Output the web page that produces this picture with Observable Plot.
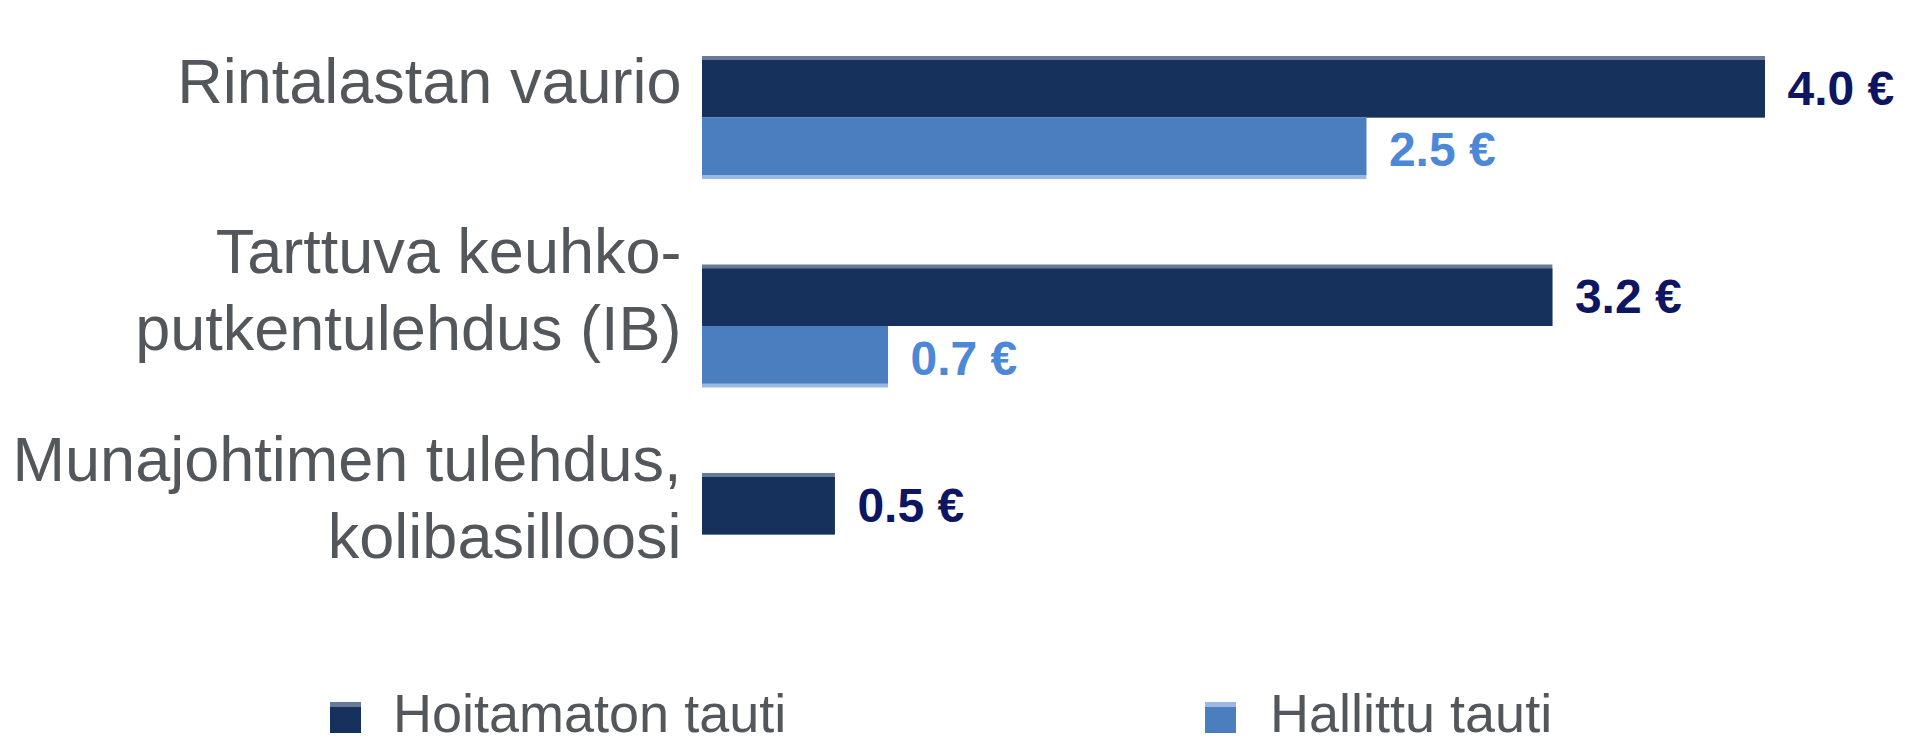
<!DOCTYPE html>
<html>
<head>
<meta charset="utf-8">
<script src="https://cdn.jsdelivr.net/npm/d3@7"></script>
<script src="https://cdn.jsdelivr.net/npm/@observablehq/plot@0.6"></script>
<style>
  html, body { margin: 0; padding: 0; background: #ffffff; }
  #wrap { width: 1905px; height: 742px; font-family: "Liberation Sans", Arial, sans-serif; }
  #legend { position: relative; width: 1905px; height: 52px; }
  .sw { position: absolute; width: 31px; height: 26px; border-top: 5px solid; }
  .lt { position: absolute; font-size: 54px; line-height: 46px; color: #53575b; white-space: nowrap; }
</style>
</head>
<body>
<div id="wrap">
  <div id="chart"></div>
  <div id="legend"></div>
</div>
<script>
// ---- data ----
const categories = [
  "Rintalastan vaurio",
  "Tarttuva keuhko-\nputkentulehdus (IB)",
  "Munajohtimen tulehdus,\nkolibasilloosi"
];
const series = ["Hoitamaton tauti", "Hallittu tauti"];
const untreated = [4.0, 3.2, 0.5];
const controlled = [2.5, 0.7, null];

// ---- styles ----
const barColors = ["#16325c", "#4a7ebf"];
const stripeColors = ["#677b97", "#9ab9e0"];
const valueColors = ["#0e1562", "#4d88d8"];
const textGray = "#53575b";
const fmt = v => d3.format(".1f")(v) + " €";

const data = [];
categories.forEach((c, i) => {
  data.push({category: c, series: series[0], value: untreated[i]});
  if (controlled[i] != null) data.push({category: c, series: series[1], value: controlled[i]});
});
const dark = data.filter(d => d.series === series[0]);
const light = data.filter(d => d.series === series[1]);

const font = "Liberation Sans, Arial, sans-serif";

const chart = Plot.plot({
  width: 1905,
  height: 690,
  marginLeft: 702,
  marginRight: 140,
  marginTop: 56,
  marginBottom: 94,
  style: {fontFamily: font, background: "#ffffff"},
  x: {domain: [0, 4], axis: null},
  y: {domain: series, axis: null, padding: 0, round: false},
  fy: {domain: categories, axis: null, paddingInner: 0.41, paddingOuter: 0, round: false},
  marks: [
    Plot.barX(dark, {x: "value", y: "series", fy: "category", fill: stripeColors[0]}),
    Plot.barX(dark, {x: "value", y: "series", fy: "category", fill: barColors[0], insetTop: 4}),
    Plot.barX(light, {x: "value", y: "series", fy: "category", fill: stripeColors[1]}),
    Plot.barX(light, {x: "value", y: "series", fy: "category", fill: barColors[1], insetBottom: 4}),
    Plot.text(dark, {
      x: "value", y: "series", fy: "category", text: d => fmt(d.value),
      dx: 22, dy: 2, textAnchor: "start", fill: valueColors[0],
      fontSize: 48, fontWeight: "bold", fontFamily: font
    }),
    Plot.text(light, {
      x: "value", y: "series", fy: "category", text: d => fmt(d.value),
      dx: 22, dy: 2, textAnchor: "start", fill: valueColors[1],
      fontSize: 48, fontWeight: "bold", fontFamily: font
    }),
    Plot.text(categories, {
      fy: d => d, text: d => d, frameAnchor: "left", textAnchor: "end",
      dx: -21, dy: -40, fontSize: 63, lineHeight: 1.22, fill: textGray, fontFamily: font
    })
  ]
});
document.getElementById("chart").appendChild(chart);

// ---- legend ----
const legend = document.getElementById("legend");
const legendPos = [{sq: 330, tx: 393}, {sq: 1205, tx: 1270}];
series.forEach((s, i) => {
  const sw = document.createElement("div");
  sw.className = "sw";
  sw.style.left = legendPos[i].sq + "px";
  sw.style.top = "12px";
  sw.style.background = barColors[i];
  sw.style.borderTopColor = stripeColors[i];
  legend.appendChild(sw);
  const t = document.createElement("div");
  t.className = "lt";
  t.style.left = legendPos[i].tx + "px";
  t.style.top = "0px";
  t.textContent = s;
  legend.appendChild(t);
});
</script>
</body>
</html>
